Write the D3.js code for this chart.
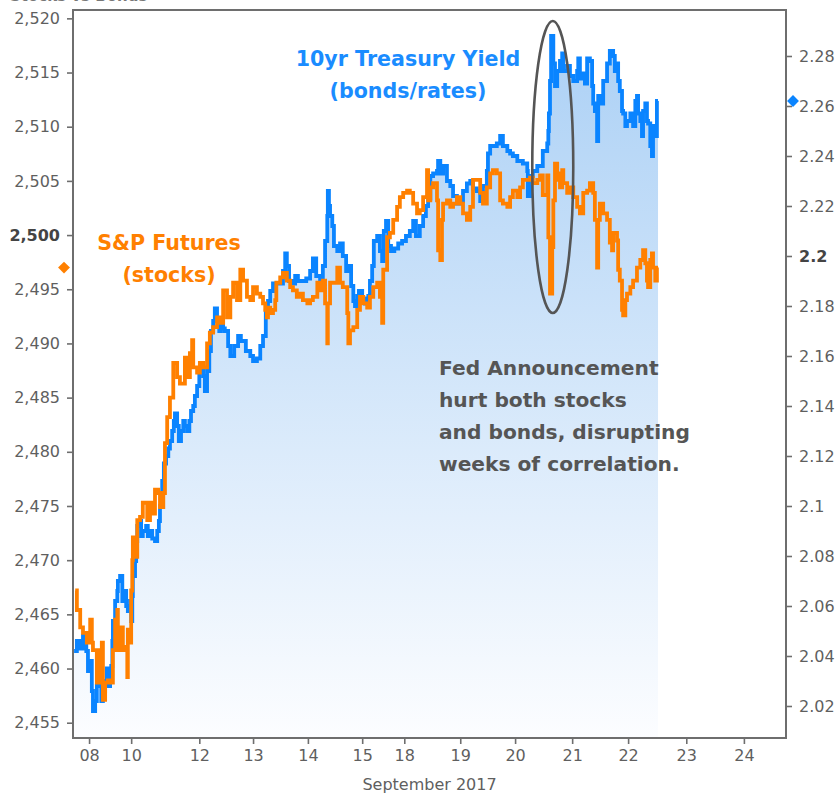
<!DOCTYPE html>
<html><head><meta charset="utf-8">
<script src="https://cdn.jsdelivr.net/npm/d3@7"></script>
<style>
html,body{margin:0;padding:0;background:#fff;}
svg{display:block;}
text{font-family:"DejaVu Sans",Verdana,sans-serif;}
</style></head>
<body>
<svg id="chart" width="838" height="796"></svg>
<script>
// ---- DATA ----
const xTickDays   = [0, 0.76, 1.99, 2.96, 3.95, 4.93, 5.69, 6.70, 7.69, 8.72, 9.73, 10.78, 11.82];
const xTickLabels = ["08","10","12","13","14","15","18","19","20","21","22","23","24"];
const xAxisTitle  = "September 2017";
const leftTicks   = [2455,2460,2465,2470,2475,2480,2485,2490,2495,2500,2505,2510,2515,2520];
const rightTicks  = [2.02,2.04,2.06,2.08,2.10,2.12,2.14,2.16,2.18,2.20,2.22,2.24,2.26,2.28];

// 10yr Treasury yield (right axis)
const yieldDay = [-0.27,-0.22,-0.16,-0.11,-0.05,-0.02,0.02,0.05,0.07,0.11,0.14,0.20,0.22,0.25,0.29,0.32,0.34,0.38,0.40,0.42,0.43,0.47,0.51,0.52,0.56,0.60,0.63,0.67,0.70,0.74,0.76,0.78,0.79,0.83,0.85,0.87,0.90,0.94,0.97,1.03,1.06,1.10,1.14,1.19,1.23,1.26,1.28,1.32,1.35,1.39,1.43,1.46,1.50,1.53,1.55,1.59,1.62,1.66,1.70,1.73,1.77,1.81,1.84,1.88,1.91,1.95,1.99,2.02,2.06,2.09,2.13,2.17,2.20,2.24,2.27,2.31,2.35,2.38,2.42,2.45,2.51,2.55,2.62,2.69,2.74,2.83,2.91,2.96,3.03,3.09,3.14,3.19,3.23,3.27,3.32,3.38,3.45,3.50,3.54,3.57,3.61,3.66,3.72,3.77,3.84,3.92,3.99,4.04,4.10,4.17,4.22,4.26,4.30,4.31,4.33,4.35,4.39,4.42,4.48,4.53,4.58,4.64,4.69,4.73,4.77,4.80,4.84,4.87,4.93,4.98,5.04,5.07,5.11,5.14,5.20,5.25,5.29,5.32,5.36,5.40,5.45,5.51,5.58,5.65,5.72,5.79,5.85,5.90,5.97,6.03,6.08,6.12,6.16,6.21,6.28,6.30,6.34,6.39,6.46,6.52,6.57,6.64,6.70,6.75,6.82,6.88,6.93,7.00,7.06,7.11,7.18,7.20,7.24,7.29,7.36,7.42,7.47,7.55,7.60,7.65,7.73,7.78,7.83,7.91,7.92,7.96,8.01,8.09,8.14,8.19,8.27,8.29,8.30,8.32,8.34,8.38,8.41,8.45,8.50,8.54,8.56,8.63,8.68,8.74,8.81,8.83,8.86,8.92,8.95,8.99,9.04,9.08,9.10,9.13,9.17,9.19,9.22,9.28,9.35,9.40,9.46,9.49,9.53,9.55,9.58,9.62,9.64,9.68,9.71,9.77,9.82,9.86,9.89,9.91,9.95,9.98,10.00,10.04,10.07,10.09,10.13,10.16,10.18,10.22,10.25,10.27];
const yieldVal = [2.042,2.046,2.043,2.048,2.042,2.034,2.038,2.026,2.018,2.022,2.028,2.030,2.022,2.026,2.030,2.035,2.028,2.032,2.036,2.046,2.054,2.062,2.066,2.070,2.072,2.062,2.066,2.060,2.058,2.062,2.054,2.064,2.072,2.078,2.086,2.092,2.094,2.088,2.090,2.092,2.088,2.090,2.087,2.086,2.090,2.094,2.100,2.110,2.117,2.120,2.123,2.126,2.130,2.134,2.137,2.132,2.126,2.130,2.134,2.132,2.130,2.134,2.138,2.140,2.144,2.148,2.154,2.157,2.152,2.146,2.154,2.162,2.170,2.174,2.179,2.175,2.170,2.174,2.171,2.170,2.164,2.160,2.164,2.168,2.166,2.162,2.160,2.158,2.159,2.164,2.168,2.178,2.182,2.186,2.189,2.189,2.189,2.194,2.201,2.196,2.190,2.189,2.192,2.190,2.190,2.191,2.194,2.199,2.192,2.190,2.196,2.206,2.216,2.226,2.220,2.216,2.212,2.204,2.202,2.205,2.200,2.194,2.196,2.188,2.182,2.180,2.184,2.186,2.183,2.181,2.184,2.190,2.196,2.206,2.208,2.202,2.198,2.210,2.214,2.204,2.202,2.203,2.205,2.206,2.208,2.210,2.214,2.208,2.212,2.216,2.220,2.223,2.232,2.233,2.234,2.238,2.233,2.236,2.230,2.228,2.224,2.221,2.222,2.226,2.229,2.230,2.227,2.226,2.222,2.228,2.234,2.241,2.244,2.244,2.245,2.248,2.244,2.242,2.241,2.240,2.238,2.238,2.237,2.234,2.224,2.232,2.234,2.236,2.236,2.242,2.245,2.250,2.257,2.270,2.288,2.277,2.268,2.274,2.278,2.281,2.274,2.276,2.272,2.270,2.274,2.279,2.271,2.273,2.269,2.279,2.278,2.268,2.261,2.258,2.246,2.264,2.261,2.270,2.277,2.282,2.280,2.274,2.277,2.270,2.266,2.258,2.257,2.252,2.254,2.257,2.252,2.262,2.264,2.257,2.254,2.248,2.258,2.261,2.254,2.253,2.244,2.240,2.252,2.248,2.262,2.262];

// S&P futures (left axis)
const spxDay = [-0.25,-0.22,-0.16,-0.11,-0.04,0.02,0.05,0.07,0.14,0.20,0.23,0.25,0.29,0.34,0.38,0.43,0.47,0.51,0.52,0.56,0.61,0.65,0.69,0.70,0.74,0.76,0.78,0.79,0.83,0.87,0.92,0.97,1.05,1.10,1.16,1.19,1.25,1.28,1.34,1.37,1.41,1.46,1.52,1.59,1.64,1.73,1.77,1.82,1.86,1.88,1.95,2.00,2.06,2.13,2.18,2.24,2.31,2.36,2.42,2.49,2.55,2.60,2.67,2.73,2.78,2.85,2.91,2.96,3.03,3.09,3.14,3.18,3.21,3.23,3.27,3.32,3.36,3.38,3.45,3.50,3.57,3.63,3.68,3.75,3.81,3.86,3.94,3.99,4.04,4.12,4.17,4.22,4.26,4.30,4.31,4.35,4.40,4.48,4.53,4.58,4.66,4.68,4.71,4.77,4.84,4.89,4.95,5.02,5.07,5.13,5.20,5.25,5.29,5.31,5.38,5.43,5.49,5.56,5.61,5.67,5.74,5.79,5.85,5.92,5.97,6.03,6.10,6.12,6.16,6.21,6.28,6.30,6.34,6.37,6.39,6.46,6.52,6.57,6.64,6.70,6.75,6.82,6.88,6.93,7.00,7.06,7.11,7.18,7.24,7.29,7.36,7.42,7.47,7.55,7.60,7.65,7.73,7.78,7.83,7.91,7.96,8.01,8.09,8.14,8.19,8.27,8.29,8.32,8.36,8.38,8.41,8.45,8.47,8.50,8.54,8.56,8.63,8.68,8.74,8.81,8.86,8.92,8.99,9.04,9.10,9.13,9.17,9.19,9.22,9.28,9.35,9.40,9.44,9.46,9.53,9.55,9.58,9.62,9.64,9.68,9.71,9.77,9.82,9.89,9.95,10.00,10.04,10.07,10.09,10.13,10.16,10.18,10.22,10.25,10.27];
const spxVal = [2467.2,2465.4,2463.8,2463.3,2462.4,2464.5,2462.4,2461.7,2458.7,2461.7,2462.4,2457.1,2458.7,2458.9,2458.7,2461.7,2464.5,2465.4,2461.7,2463.8,2461.7,2462.0,2459.2,2463.6,2462.4,2467.2,2470.0,2472.1,2470.3,2473.7,2474.0,2475.3,2473.7,2475.3,2474.3,2476.5,2476.2,2474.9,2476.2,2480.8,2483.2,2485.0,2488.2,2486.9,2486.3,2488.7,2486.9,2489.1,2490.3,2487.8,2487.3,2488.2,2487.8,2490.0,2491.0,2491.5,2492.4,2491.9,2494.9,2492.4,2494.3,2495.6,2494.0,2496.8,2495.8,2494.3,2494.0,2495.2,2494.6,2494.3,2493.7,2493.1,2492.4,2493.3,2492.8,2493.1,2494.0,2495.6,2496.1,2496.5,2495.8,2495.2,2494.9,2494.3,2494.6,2494.0,2493.7,2494.0,2494.3,2495.6,2494.9,2495.8,2493.7,2490.0,2493.7,2495.6,2495.6,2497.0,2495.6,2495.2,2492.8,2490.0,2491.2,2491.5,2493.1,2494.3,2493.7,2493.3,2494.3,2495.2,2495.6,2494.3,2491.9,2496.8,2499.8,2500.2,2501.4,2502.6,2503.5,2503.9,2504.1,2503.9,2502.9,2502.0,2502.3,2503.5,2506.0,2503.2,2504.4,2504.8,2503.2,2498.6,2497.7,2501.4,2502.9,2503.2,2502.6,2502.9,2503.5,2502.9,2502.0,2501.4,2502.6,2505.1,2505.1,2503.9,2502.9,2504.4,2505.7,2506.0,2505.7,2503.2,2502.9,2502.6,2503.5,2504.1,2503.5,2504.4,2505.1,2505.1,2505.3,2504.8,2505.1,2505.5,2503.7,2505.5,2499.8,2494.6,2498.9,2503.2,2506.6,2505.1,2505.7,2504.4,2506.0,2504.8,2503.9,2504.4,2503.5,2502.6,2502.0,2503.9,2504.1,2504.8,2503.9,2501.4,2497.0,2501.4,2502.9,2502.0,2501.4,2499.3,2498.6,2500.2,2499.5,2496.8,2495.8,2493.1,2492.6,2494.0,2494.6,2495.2,2495.8,2497.0,2497.7,2498.6,2497.4,2495.8,2495.2,2497.7,2498.3,2497.0,2495.8,2497.0,2497.0];

// ---- LAYOUT ----
const svg = d3.select("#chart");
const L = 73, R = 786, T = 10, B = 738;
const x  = d3.scaleLinear().domain([-0.29, 12.58]).range([L, R]);
const yL = d3.scaleLinear().domain([2453.59, 2520.77]).range([B, T]);
const yR = d3.scaleLinear().domain([2.0072, 2.2984]).range([B, T]);

const blue = "#0a84ff", orange = "#ff8000", axisGray = "#6e6e6e", labelGray = "#5f5f5f";

const yieldData = yieldDay.map((d,i)=>({d, v: yieldVal[i]}));
const spxData   = spxDay.map((d,i)=>({d, v: spxVal[i]}));

// gradient
const defs = svg.append("defs");
const grad = defs.append("linearGradient").attr("id","areaGrad")
  .attr("gradientUnits","userSpaceOnUse").attr("x1",0).attr("y1",T).attr("x2",0).attr("y2",B);
grad.append("stop").attr("offset","0%").attr("stop-color","#a9cff5");
grad.append("stop").attr("offset","100%").attr("stop-color","#fcfdff");

// cut-off title
svg.append("text").attr("x",10).attr("y",1).attr("fill","#777").attr("font-size",15).attr("font-weight","bold").text("Stocks vs Bonds");

// area under yield
const area = d3.area().curve(d3.curveStepAfter)
  .x(p=>x(p.d)).y0(B).y1(p=>yR(p.v));
svg.append("path").datum(yieldData).attr("d",area).attr("fill","url(#areaGrad)");

// lines
const lineY = d3.line().curve(d3.curveStepAfter).x(p=>x(p.d)).y(p=>yR(p.v));
const lineS = d3.line().curve(d3.curveStepAfter).x(p=>x(p.d)).y(p=>yL(p.v));
svg.append("path").datum(yieldData).attr("d",lineY).attr("fill","none")
  .attr("stroke",blue).attr("stroke-width",3.8).attr("stroke-linejoin","miter");
svg.append("path").datum(spxData).attr("d",lineS).attr("fill","none")
  .attr("stroke",orange).attr("stroke-width",3.8).attr("stroke-linejoin","miter");

// axes
function styleAxis(g, boldVal){
  g.select(".domain").remove();
  g.selectAll(".tick line").attr("stroke",axisGray).attr("stroke-width",1.6);
  g.selectAll(".tick text").attr("fill",labelGray).attr("font-size",16)
    .attr("font-family","'DejaVu Sans',Verdana,sans-serif");
  if (boldVal !== undefined) {
    g.selectAll(".tick").filter(d=>Math.abs(d-boldVal)<1e-9).select("text")
      .attr("font-weight","bold").attr("fill","#444");
  }
}
const gL = svg.append("g").attr("transform",`translate(${L},0)`)
  .call(d3.axisLeft(yL).tickValues(leftTicks).tickFormat(d3.format(",")).tickSize(6).tickPadding(7));
styleAxis(gL, 2500);
const gR = svg.append("g").attr("transform",`translate(${R},0)`)
  .call(d3.axisRight(yR).tickValues(rightTicks).tickFormat(d3.format(".2~f")).tickSize(6).tickPadding(7));
styleAxis(gR, 2.2);
const gB = svg.append("g").attr("transform",`translate(0,${B})`)
  .call(d3.axisBottom(x).tickValues(xTickDays).tickFormat((d,i)=>xTickLabels[i]).tickSize(6).tickPadding(6));
styleAxis(gB);

svg.append("text").attr("x",(L+R)/2).attr("y",790).attr("text-anchor","middle")
  .attr("fill",labelGray).attr("font-size",16).text(xAxisTitle);

// frame
svg.append("rect").attr("x",L).attr("y",T).attr("width",R-L).attr("height",B-T)
  .attr("fill","none").attr("stroke",axisGray).attr("stroke-width",2);

// last-value diamonds
const dia = d3.symbol().type(d3.symbolDiamond2).size(90);
svg.append("path").attr("d",dia).attr("fill",orange)
  .attr("transform",`translate(64,${yL(spxVal[spxVal.length-1])})`);
svg.append("path").attr("d",dia).attr("fill",blue)
  .attr("transform",`translate(${R+7},${yR(yieldVal[yieldVal.length-1])})`);

// annotation ellipse (Fed announcement)
const eX0 = x(8.0), eX1 = x(8.74), eYt = yR(2.294), eYb = yR(2.1772);
svg.append("ellipse").attr("cx",(eX0+eX1)/2).attr("cy",(eYt+eYb)/2)
  .attr("rx",(eX1-eX0)/2).attr("ry",(eYb-eYt)/2)
  .attr("fill","none").attr("stroke","#555").attr("stroke-width",2.6);

// labels
const blueLbl = svg.append("text").attr("text-anchor","middle").attr("fill","#1a8cff")
  .attr("font-weight","bold").attr("font-size",20.6);
blueLbl.append("tspan").attr("x",408).attr("y",66).text("10yr Treasury Yield");
blueLbl.append("tspan").attr("x",408).attr("y",98).text("(bonds/rates)");

const orLbl = svg.append("text").attr("text-anchor","middle").attr("fill",orange)
  .attr("font-weight","bold").attr("font-size",20.6);
orLbl.append("tspan").attr("x",169).attr("y",250).text("S&P Futures");
orLbl.append("tspan").attr("x",169).attr("y",282).text("(stocks)");

const fedLines = ["Fed Announcement","hurt both stocks","and bonds, disrupting","weeks of correlation."];
svg.append("text").attr("fill","#555").attr("font-weight","bold").attr("font-size",20.2)
  .selectAll("tspan").data(fedLines).join("tspan")
  .attr("x",439).attr("y",(d,i)=>375+i*32).text(d=>d);
</script>
</body></html>
